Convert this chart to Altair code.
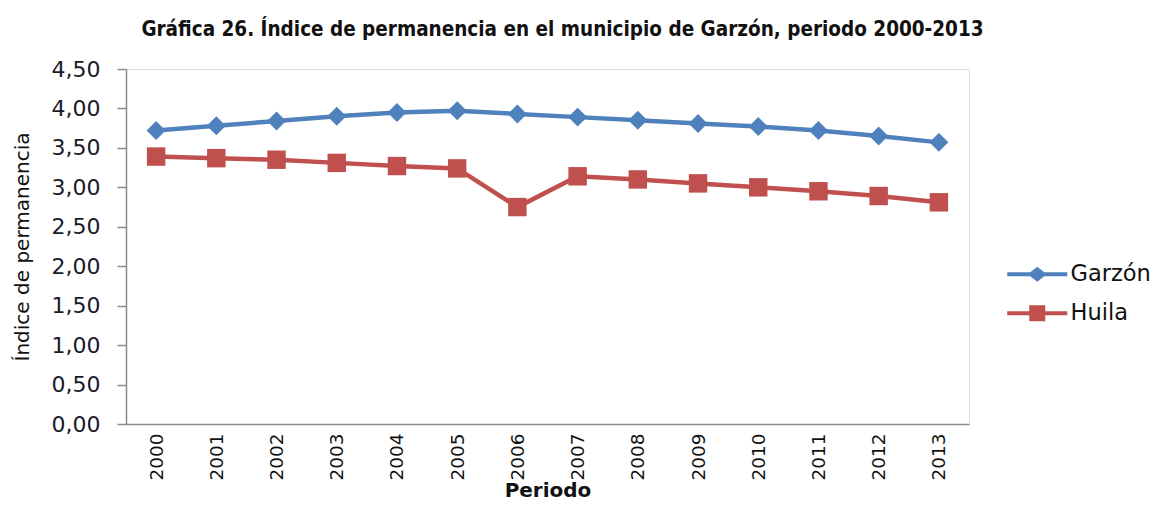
import altair as alt
import pandas as pd

years = [str(y) for y in range(2000, 2014)]
garzon = [3.72, 3.78, 3.84, 3.90, 3.95, 3.97, 3.93, 3.89, 3.85, 3.81, 3.77, 3.72, 3.65, 3.57]
huila = [3.39, 3.37, 3.35, 3.31, 3.27, 3.24, 2.75, 3.14, 3.10, 3.05, 3.00, 2.95, 2.89, 2.81]
series = ["Garzón", "Huila"]
colors = ["#4F81BD", "#C0504D"]
y_ticks = [0, 0.5, 1, 1.5, 2, 2.5, 3, 3.5, 4, 4.5]

rows = []
for i, y in enumerate(years):
    rows.append({"Periodo": y, "Serie": series[0], "Valor": garzon[i]})
    rows.append({"Periodo": y, "Serie": series[1], "Valor": huila[i]})
df = pd.DataFrame(rows)

FONT = "DejaVu Sans"
diamond_leg = "M-3,-0.2L-0.7,-0.2L0,-0.75L0.7,-0.2L3,-0.2L3,0.2L0.7,0.2L0,0.75L-0.7,0.2L-3,0.2Z"
square_leg = "M-3,-0.2L-0.8,-0.2L-0.8,-0.8L0.8,-0.8L0.8,-0.2L3,-0.2L3,0.2L0.8,0.2L0.8,0.8L-0.8,0.8L-0.8,0.2L-3,0.2Z"

x_enc = alt.X("Periodo:N", sort=years,
              scale=alt.Scale(type="point", padding=0.5),
              axis=alt.Axis(title="Periodo", labelAngle=-90, labelAlign="right",
                            labelBaseline="middle", labelPadding=9, ticks=False,
                            labelFontSize=18.5, labelColor="#111", labelFont=FONT,
                            titleFont=FONT, titleFontSize=20, titleFontWeight="bold",
                            titleColor="#111", titlePadding=0,
                            domainColor="#8c8c8c", domainWidth=1.5))
y_enc = alt.Y("Valor:Q", scale=alt.Scale(domain=[0, 4.5], nice=False, zero=True),
              axis=alt.Axis(title="Índice de permanencia", values=y_ticks,
                            labelExpr="replace(format(datum.value, '.2f'), '.', ',')",
                            grid=False, tickSize=9, tickColor="#8c8c8c", tickWidth=1.5,
                            labelPadding=17, labelFontSize=22, labelColor="#1a1a2a",
                            labelFont=FONT, titleFont=FONT, titleFontSize=20,
                            titleFontWeight="normal", titleColor="#111", titlePadding=19,
                            domainColor="#8c8c8c", domainWidth=1.5))
color_scale = alt.Scale(domain=series, range=colors)

leg = dict(title=None, orient="none", legendX=900, legendY=194,
           symbolSize=400, labelFontSize=22.5, labelFont=FONT,
           labelColor="#111", rowPadding=16, labelOffset=22, labelLimit=200,
           symbolStrokeWidth=0, symbolOpacity=1)

lines = alt.Chart(df).mark_line(strokeWidth=4.5).encode(
    x=x_enc, y=y_enc,
    color=alt.Color("Serie:N", scale=color_scale, legend=None),
)

pts_g = alt.Chart(df).transform_filter(alt.datum.Serie == series[0]).mark_point(
    filled=True, opacity=1, shape="diamond", size=360).encode(
    x=x_enc, y=y_enc, color=alt.Color("Serie:N", scale=color_scale, legend=None))
pts_h = alt.Chart(df).transform_filter(alt.datum.Serie == series[1]).mark_point(
    filled=True, opacity=1, shape="square", size=340).encode(
    x=x_enc, y=y_enc, color=alt.Color("Serie:N", scale=color_scale, legend=None))

legend_layer = alt.Chart(df).mark_point(filled=True, opacity=0).encode(
    x=x_enc, y=y_enc,
    color=alt.Color("Serie:N", scale=color_scale, legend=alt.Legend(**leg)),
    shape=alt.Shape("Serie:N", scale=alt.Scale(domain=series, range=[diamond_leg, square_leg]),
                    legend=alt.Legend(**leg)),
)

chart = alt.layer(lines, pts_g, pts_h, legend_layer).resolve_legend(
    color="independent", shape="independent"
).properties(
    width=843, height=355,
    autosize=alt.AutoSizeParams(type="none"),
    padding={"left": 118, "top": 61, "right": 185, "bottom": 80},
    title=alt.TitleParams("Gráfica 26. Índice de permanencia en el municipio de Garzón, periodo 2000-2013",
                          font="DejaVu Sans Condensed, Liberation Sans",
                          fontSize=20.5, fontWeight="bold", color="#111", anchor="middle",
                          dx=15, offset=18),
).configure_view(stroke=None).configure(background="white")

chart.save("out.html", embed_options={"renderer": "svg", "actions": False})
